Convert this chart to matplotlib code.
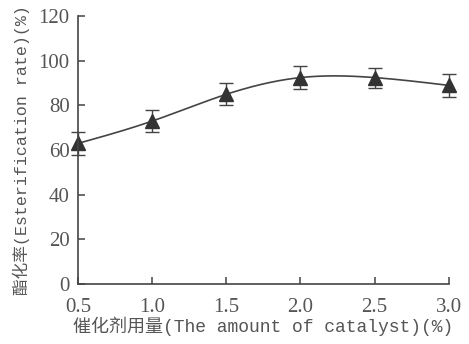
import numpy as np
import matplotlib
matplotlib.use("Agg")
import matplotlib.pyplot as plt

catalyst = [0.5, 1.0, 1.5, 2.0, 2.5, 3.0]
rate = [63.0, 73.0, 85.0, 92.5, 92.5, 89.0]
err = [5.0, 5.0, 5.0, 5.0, 4.5, 5.0]
xticks = [0.5, 1.0, 1.5, 2.0, 2.5, 3.0]
xtick_labels = ["0.5", "1.0", "1.5", "2.0", "2.5", "3.0"]
yticks = [0, 20, 40, 60, 80, 100, 120]

def natural_spline(x, y, xs):
    x = np.asarray(x, float); y = np.asarray(y, float)
    n = len(x); h = np.diff(x)
    A = np.zeros((n, n)); b = np.zeros(n)
    A[0, 0] = A[-1, -1] = 1
    for i in range(1, n - 1):
        A[i, i - 1] = h[i - 1]; A[i, i] = 2 * (h[i - 1] + h[i]); A[i, i + 1] = h[i]
        b[i] = 3 * ((y[i + 1] - y[i]) / h[i] - (y[i] - y[i - 1]) / h[i - 1])
    c = np.linalg.solve(A, b)
    out = np.empty_like(xs)
    for k, xv in enumerate(xs):
        i = min(max(np.searchsorted(x, xv) - 1, 0), n - 2)
        d = (c[i + 1] - c[i]) / (3 * h[i])
        bb = (y[i + 1] - y[i]) / h[i] - h[i] * (2 * c[i] + c[i + 1]) / 3
        t = xv - x[i]
        out[k] = y[i] + bb * t + c[i] * t ** 2 + d * t ** 3
    return out

gray = "#555555"
fig = plt.figure(figsize=(4.69, 3.44), dpi=100)
ax = fig.add_axes([0.166, 0.174, 0.791, 0.779])

xs = np.linspace(catalyst[0], catalyst[-1], 300)
ax.plot(xs, natural_spline(catalyst, rate, xs), color="#444444", lw=1.2)
ax.errorbar(catalyst, rate, yerr=err, fmt="^", color="#333333", ms=10,
            ecolor="#444444", elinewidth=1.0, capsize=5, capthick=1.0, clip_on=False)

ax.set_xlim(0.5, 3.0)
ax.set_ylim(0, 120)
ax.set_xticks(xticks)
ax.set_xticklabels(xtick_labels)
ax.set_yticks(yticks)
for s in ["top", "right"]:
    ax.spines[s].set_visible(False)
for s in ["left", "bottom"]:
    ax.spines[s].set_color("#444444")
    ax.spines[s].set_linewidth(1.2)
ax.tick_params(direction="in", length=5, width=1.1, colors="#444444",
               labelcolor=gray, labelsize=15)
ax.tick_params(axis="x", pad=10)
ax.tick_params(axis="y", pad=6)
for lab in ax.get_xticklabels() + ax.get_yticklabels():
    lab.set_family(["Liberation Serif", "DejaVu Serif"])

fam = ["Liberation Mono", "Noto Sans CJK SC"]
ax.set_xlabel("催化剂用量(The amount of catalyst)(%)", family=fam,
              fontsize=13, color=gray, labelpad=0)
ax.set_ylabel("酯化率(Esterification rate)(%)", family=fam,
              fontsize=12, color=gray, labelpad=6)
fig.savefig("out.png", dpi=100)
